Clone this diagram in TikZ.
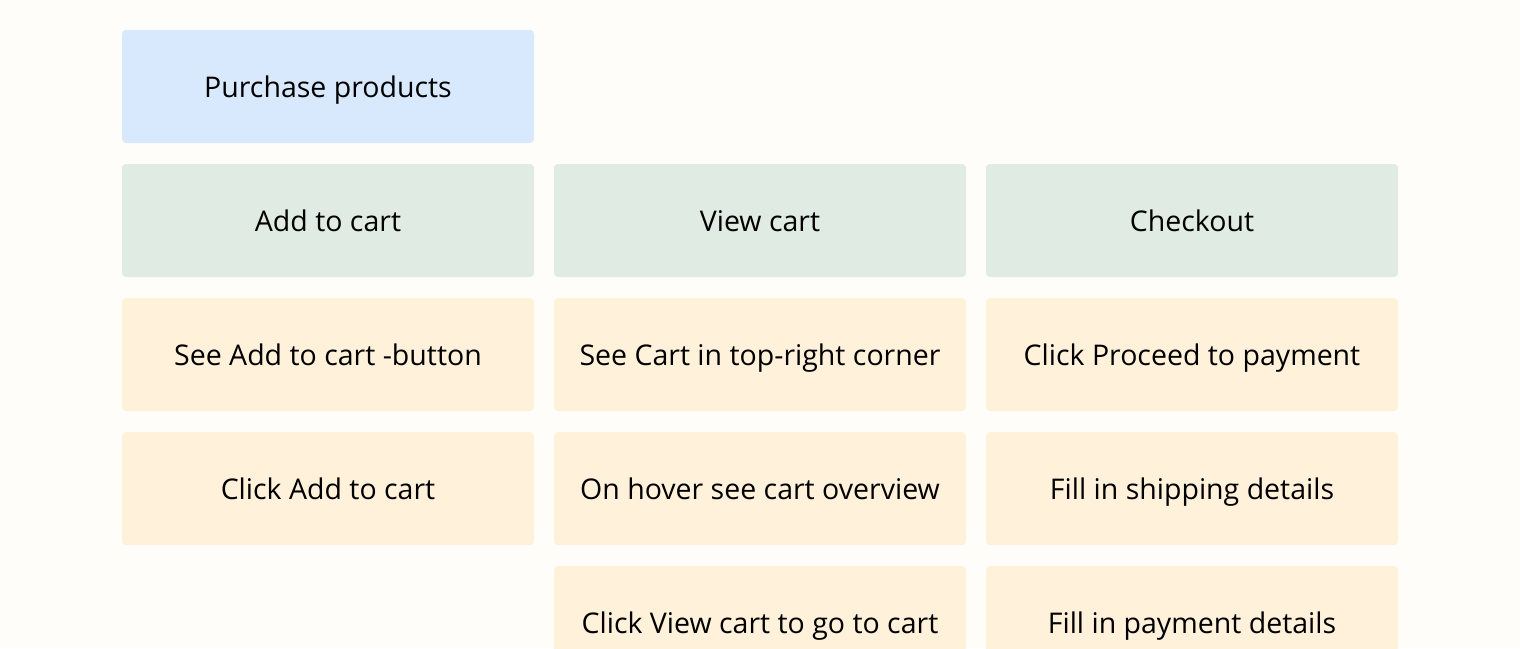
\documentclass[tikz,border=0pt]{standalone}
\usepackage{fontspec}
\setmainfont{Open Sans}
\definecolor{paper}{HTML}{FEFDF9}
\definecolor{goalblue}{HTML}{D8E8FD}
\definecolor{stepgreen}{HTML}{E0EBE3}
\definecolor{taskyellow}{HTML}{FFF1DA}
\begin{document}
\begin{tikzpicture}[x=1pt, y=-1pt, card/.style={rectangle,rounded corners=4pt,minimum width=412pt,minimum height=113pt,inner sep=0pt,text height=22pt,text depth=0pt,font=\fontsize{28.5}{34}\selectfont}]
\fill[paper] (0,0) rectangle (1520,648);
\clip (0,0) rectangle (1520,648);
\begin{scope}
\node[card,fill=goalblue] (goal) at (328,86.5) {Purchase products};
\end{scope}
\begin{scope}[every node/.append style={fill=stepgreen}]
\node[card] (add) at (328,220.5) {Add to cart};
\node[card] (view) at (760,220.5) {View cart};
\node[card] (checkout) at (1192,220.5) {Checkout};
\end{scope}
\begin{scope}[every node/.append style={fill=taskyellow}]
\node[card] (add1) at (328,354.5) {See Add to cart -button};
\node[card] (add2) at (328,488.5) {Click Add to cart};
\node[card] (view1) at (760,354.5) {See Cart in top-right corner};
\node[card] (view2) at (760,488.5) {On hover see cart overview};
\node[card] (view3) at (760,622.5) {Click View cart to go to cart};
\node[card] (checkout1) at (1192,354.5) {Click Proceed to payment};
\node[card] (checkout2) at (1192,488.5) {Fill in shipping details};
\node[card] (checkout3) at (1192,622.5) {Fill in payment details};
\end{scope}
\end{tikzpicture}
\end{document}
